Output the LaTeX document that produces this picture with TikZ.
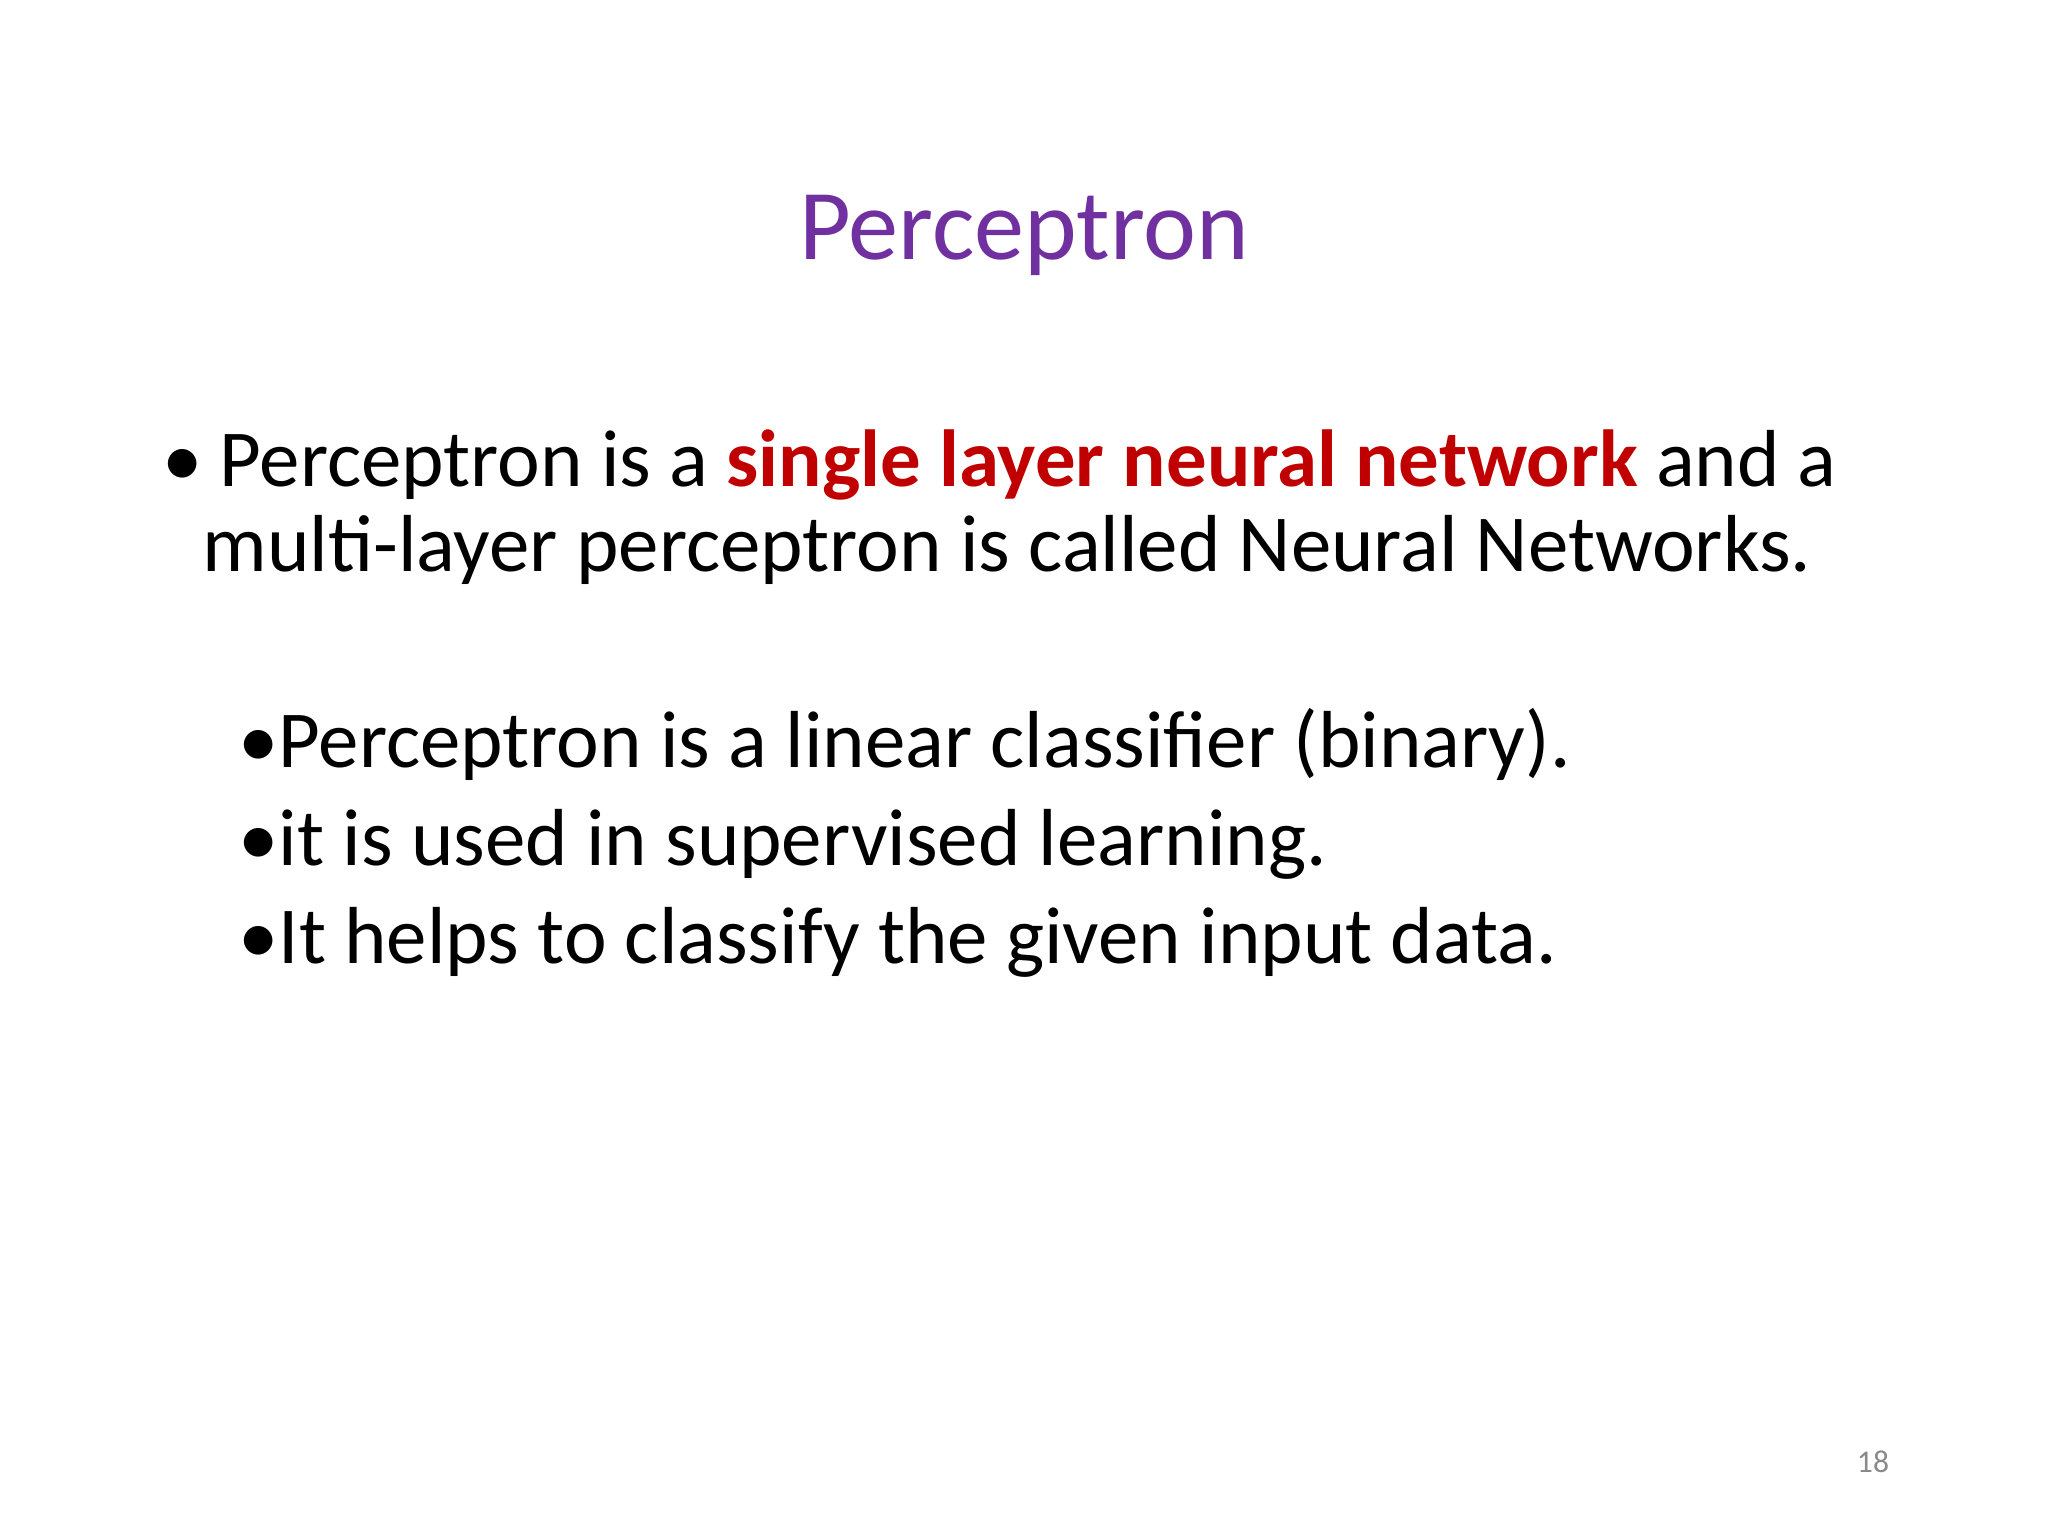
\documentclass[tikz,border=0pt]{standalone}
\usepackage{fontspec}
\setmainfont{Carlito}
\definecolor{titlepurple}{RGB}{112,48,160}
\definecolor{keyred}{RGB}{192,0,0}
\definecolor{pggrey}{RGB}{137,137,137}
\begin{document}
\begin{tikzpicture}[x=0.01cm,y=-0.01cm,
  body/.style={anchor=base west,inner sep=0,font=\fontsize{23}{28}\selectfont}]
\useasboundingbox (0,0) rectangle (2048,1536);
\node[anchor=base,inner sep=0,text=titlepurple,font=\fontsize{28.5}{34}\selectfont] (title) at (1024,259) {Perceptron};
\node[body] (b1) at (162,486) {•};
\node[body] (l1) at (219,486) {Perceptron is a \textbf{\textcolor{keyred}{single layer neural network}} and a};
\node[body] (l2) at (202,571) {multi-layer perceptron is called Neural Networks.};
\node[body] (s1b) at (238,767) {•};
\node[body] (s1) at (278,767) {Perceptron is a linear classifier (binary).};
\node[body] (s2b) at (238,865) {•};
\node[body] (s2) at (278,865) {it is used in supervised learning.};
\node[body] (s3b) at (238,963) {•};
\node[body] (s3) at (278,963) {It helps to classify the given input data.};
\node[anchor=base,inner sep=0,text=pggrey,font=\fontsize{9}{11}\selectfont] (pg) at (1873,1472) {18};
\end{tikzpicture}
\end{document}
